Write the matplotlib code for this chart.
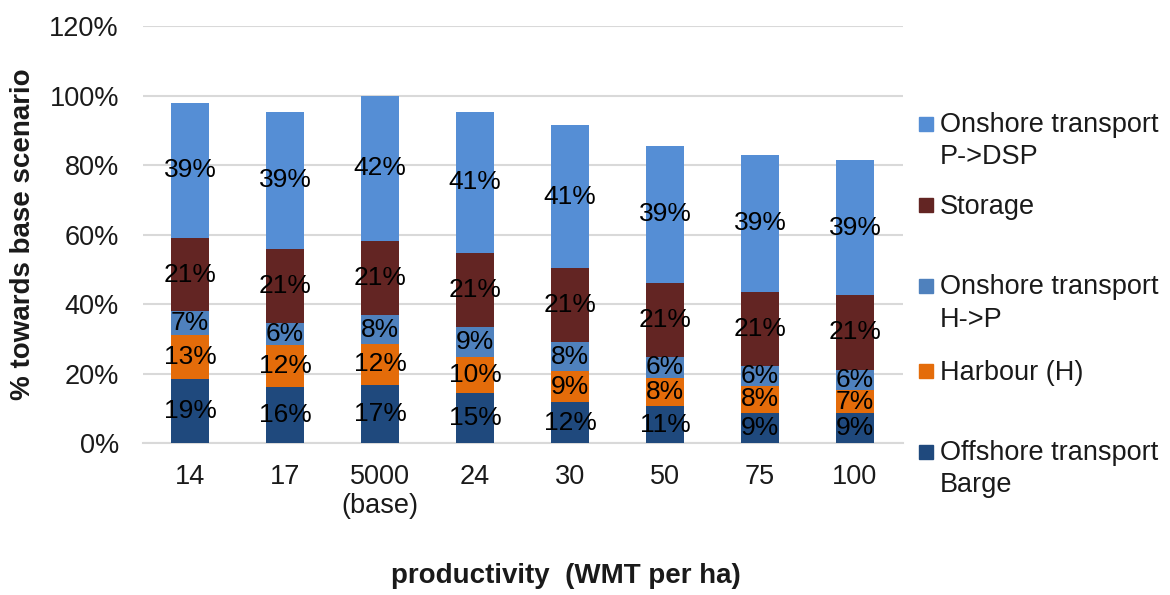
import matplotlib
matplotlib.use("Agg")
import matplotlib.pyplot as plt
from matplotlib.patches import Rectangle
import numpy as np

plt.rcParams['font.family'] = ['Liberation Sans', 'DejaVu Sans']

# data (% towards base scenario)
categories = ["14", "17", "5000\n(base)", "24", "30", "50", "75", "100"]
offshore_barge = [18.6, 16.1, 16.9, 14.6, 11.9, 10.6, 8.8, 8.6]
harbour = [12.6, 12.1, 11.6, 10.1, 8.8, 8.1, 7.6, 6.6]
onshore_hp = [6.8, 6.4, 8.3, 8.7, 8.3, 6.2, 5.9, 6.0]
storage = [21.0, 21.4, 21.3, 21.3, 21.4, 21.3, 21.3, 21.4]
onshore_pdsp = [39.0, 39.4, 41.9, 40.7, 41.1, 39.3, 39.4, 38.8]

series = [
    ("Offshore transport\nBarge", offshore_barge, "#1F497D"),
    ("Harbour (H)", harbour, "#E46C0A"),
    ("Onshore transport\nH->P", onshore_hp, "#4F81BD"),
    ("Storage", storage, "#632523"),
    ("Onshore transport\nP->DSP", onshore_pdsp, "#558ED5"),
]

W, H = 1170, 595
fig = plt.figure(figsize=(W / 100, H / 100), dpi=100)
ax = fig.add_axes([142.5 / W, 1 - 443.3 / H, 760 / W, (443.3 - 26) / H])

FS = 19.5
TXT = '#1a1a1a'
x = np.arange(len(categories))
bottom = np.zeros(len(categories))
for name, vals, col in series:
    vals = np.array(vals)
    bars = ax.bar(x, vals, width=0.4, bottom=bottom, color=col, zorder=3)
    ax.bar_label(bars, labels=[f"{v:.0f}%" for v in vals], label_type='center',
                 fontsize=19, color='black', zorder=4)
    bottom += vals

ax.set_xlim(-0.5, len(categories) - 0.5)
ax.set_ylim(0, 120)
ax.set_yticks(range(0, 121, 20))
ax.set_yticklabels([f"{v}%" for v in range(0, 121, 20)], fontsize=FS, color=TXT)
ax.set_xticks(x)
ax.set_xticklabels(categories, fontsize=FS, color=TXT, linespacing=1.15)
ax.tick_params(axis='both', length=0)
ax.tick_params(axis='y', pad=17)
ax.tick_params(axis='x', pad=15)
ax.yaxis.grid(True, color='#D9D9D9', linewidth=1.5, zorder=0)
for s in ['top', 'right', 'left']:
    ax.spines[s].set_visible(False)
ax.spines['bottom'].set_color('#D9D9D9')
ax.spines['bottom'].set_linewidth(1.5)

fig.text(23 / W, 1 - 234 / H, "% towards base scenario", rotation=90,
         ha='center', va='center', fontsize=FS + 0.5, fontweight='bold', color=TXT)
fig.text(566 / W, 1 - 583 / H, "productivity  (WMT per ha)", ha='center',
         va='baseline', fontsize=FS + 0.5, fontweight='bold', color=TXT)

# legend drawn by hand (top entry first, as in the original)
marker_y = [124, 205, 286, 371, 452]
for (name, vals, col), my in zip(series[::-1], marker_y):
    fig.patches.append(Rectangle((919 / W, 1 - (my + 7) / H), 14 / W, 14 / H,
                                 transform=fig.transFigure, color=col))
    for k, line in enumerate(name.split("\n")):
        fig.text(940 / W, 1 - (my + 8.5 + 32 * k) / H, line, ha='left',
                 va='baseline', fontsize=FS, color=TXT)

fig.savefig("out.png", dpi=100)
